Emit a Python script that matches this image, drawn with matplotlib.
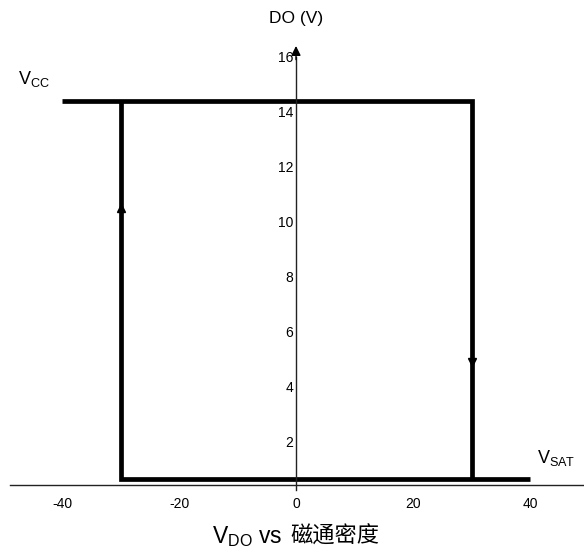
import matplotlib
matplotlib.use("Agg")
import matplotlib.pyplot as plt

plt.rcParams['font.family'] = ['Liberation Sans', 'Noto Sans CJK SC', 'DejaVu Sans']
plt.rcParams['mathtext.fontset'] = 'custom'
plt.rcParams['mathtext.rm'] = 'Liberation Sans'
plt.rcParams['mathtext.it'] = 'Liberation Sans'

# hysteresis loop of the digital output (DO) vs flux density
upper_x = [-40, 30, 30]
upper_y = [14.4, 14.4, 0.65]
lower_x = [40, -30, -30]
lower_y = [0.65, 0.65, 14.4]

# direction arrows on the vertical branches
up_arrow = (-30, 10.5)
down_arrow = (30, 4.9)

x_ticks = [-40, -20, 0, 20, 40]
y_ticks = [2, 4, 6, 8, 10, 12, 14, 16]
axis_level = 0.45

fig = plt.figure(figsize=(5.84, 5.56), dpi=100)
ax = fig.add_axes([0, 0, 1, 1])
ax.set_xlim(-50.6, 49.23)
ax.set_ylim(-2.145, 18.07)

for s in ['top', 'right']:
    ax.spines[s].set_visible(False)
ax.spines['left'].set_position(('data', 0))
ax.spines['bottom'].set_position(('data', axis_level))
ax.spines['left'].set_bounds(axis_level - 0.2, 16.0)
ax.spines['bottom'].set_bounds(-48.9, 49.23)
for s in ['left', 'bottom']:
    ax.spines[s].set_linewidth(1.0)
    ax.spines[s].set_color('#222222')

ax.set_xticks(x_ticks)
ax.set_xticklabels([str(v) for v in x_ticks])
ax.set_yticks(y_ticks)
ax.set_yticklabels([str(v) for v in y_ticks])
ax.tick_params(axis='x', length=0, pad=8.6, labelsize=10)
ax.tick_params(axis='y', length=0, pad=2, labelsize=10)
ax.patch.set_alpha(0)

ax.annotate('', xy=(0, 16.5), xytext=(0, 15.8),
            arrowprops=dict(arrowstyle='-|>', color='black', lw=1, mutation_scale=14))

ax.plot(upper_x, upper_y, color='black', lw=3.4, solid_joinstyle='miter', solid_capstyle='butt')
ax.plot(lower_x, lower_y, color='black', lw=3.4, solid_joinstyle='miter', solid_capstyle='butt')
ax.plot(*up_arrow, marker='^', color='black', markersize=6)
ax.plot(*down_arrow, marker='v', color='black', markersize=6)

ax.text(0, 17.4, 'DO (V)', ha='center', va='center', fontsize=12.5)
ax.text(-47.6, 15.2, r'V$_{\mathrm{CC}}$', ha='left', va='center', fontsize=13)
ax.text(41.2, 1.4, r'V$_{\mathrm{SAT}}$', ha='left', va='center', fontsize=13)

ax.text(-14.4, -1.42, r'V$_{\mathrm{DO}}$ vs', ha='left', va='center', fontsize=16.5)
ax.text(-1.0, -1.42, '磁通密度', ha='left', va='center', fontsize=16,
        family=['Noto Sans CJK SC', 'DejaVu Sans'])

fig.savefig('out.png', dpi=100)
